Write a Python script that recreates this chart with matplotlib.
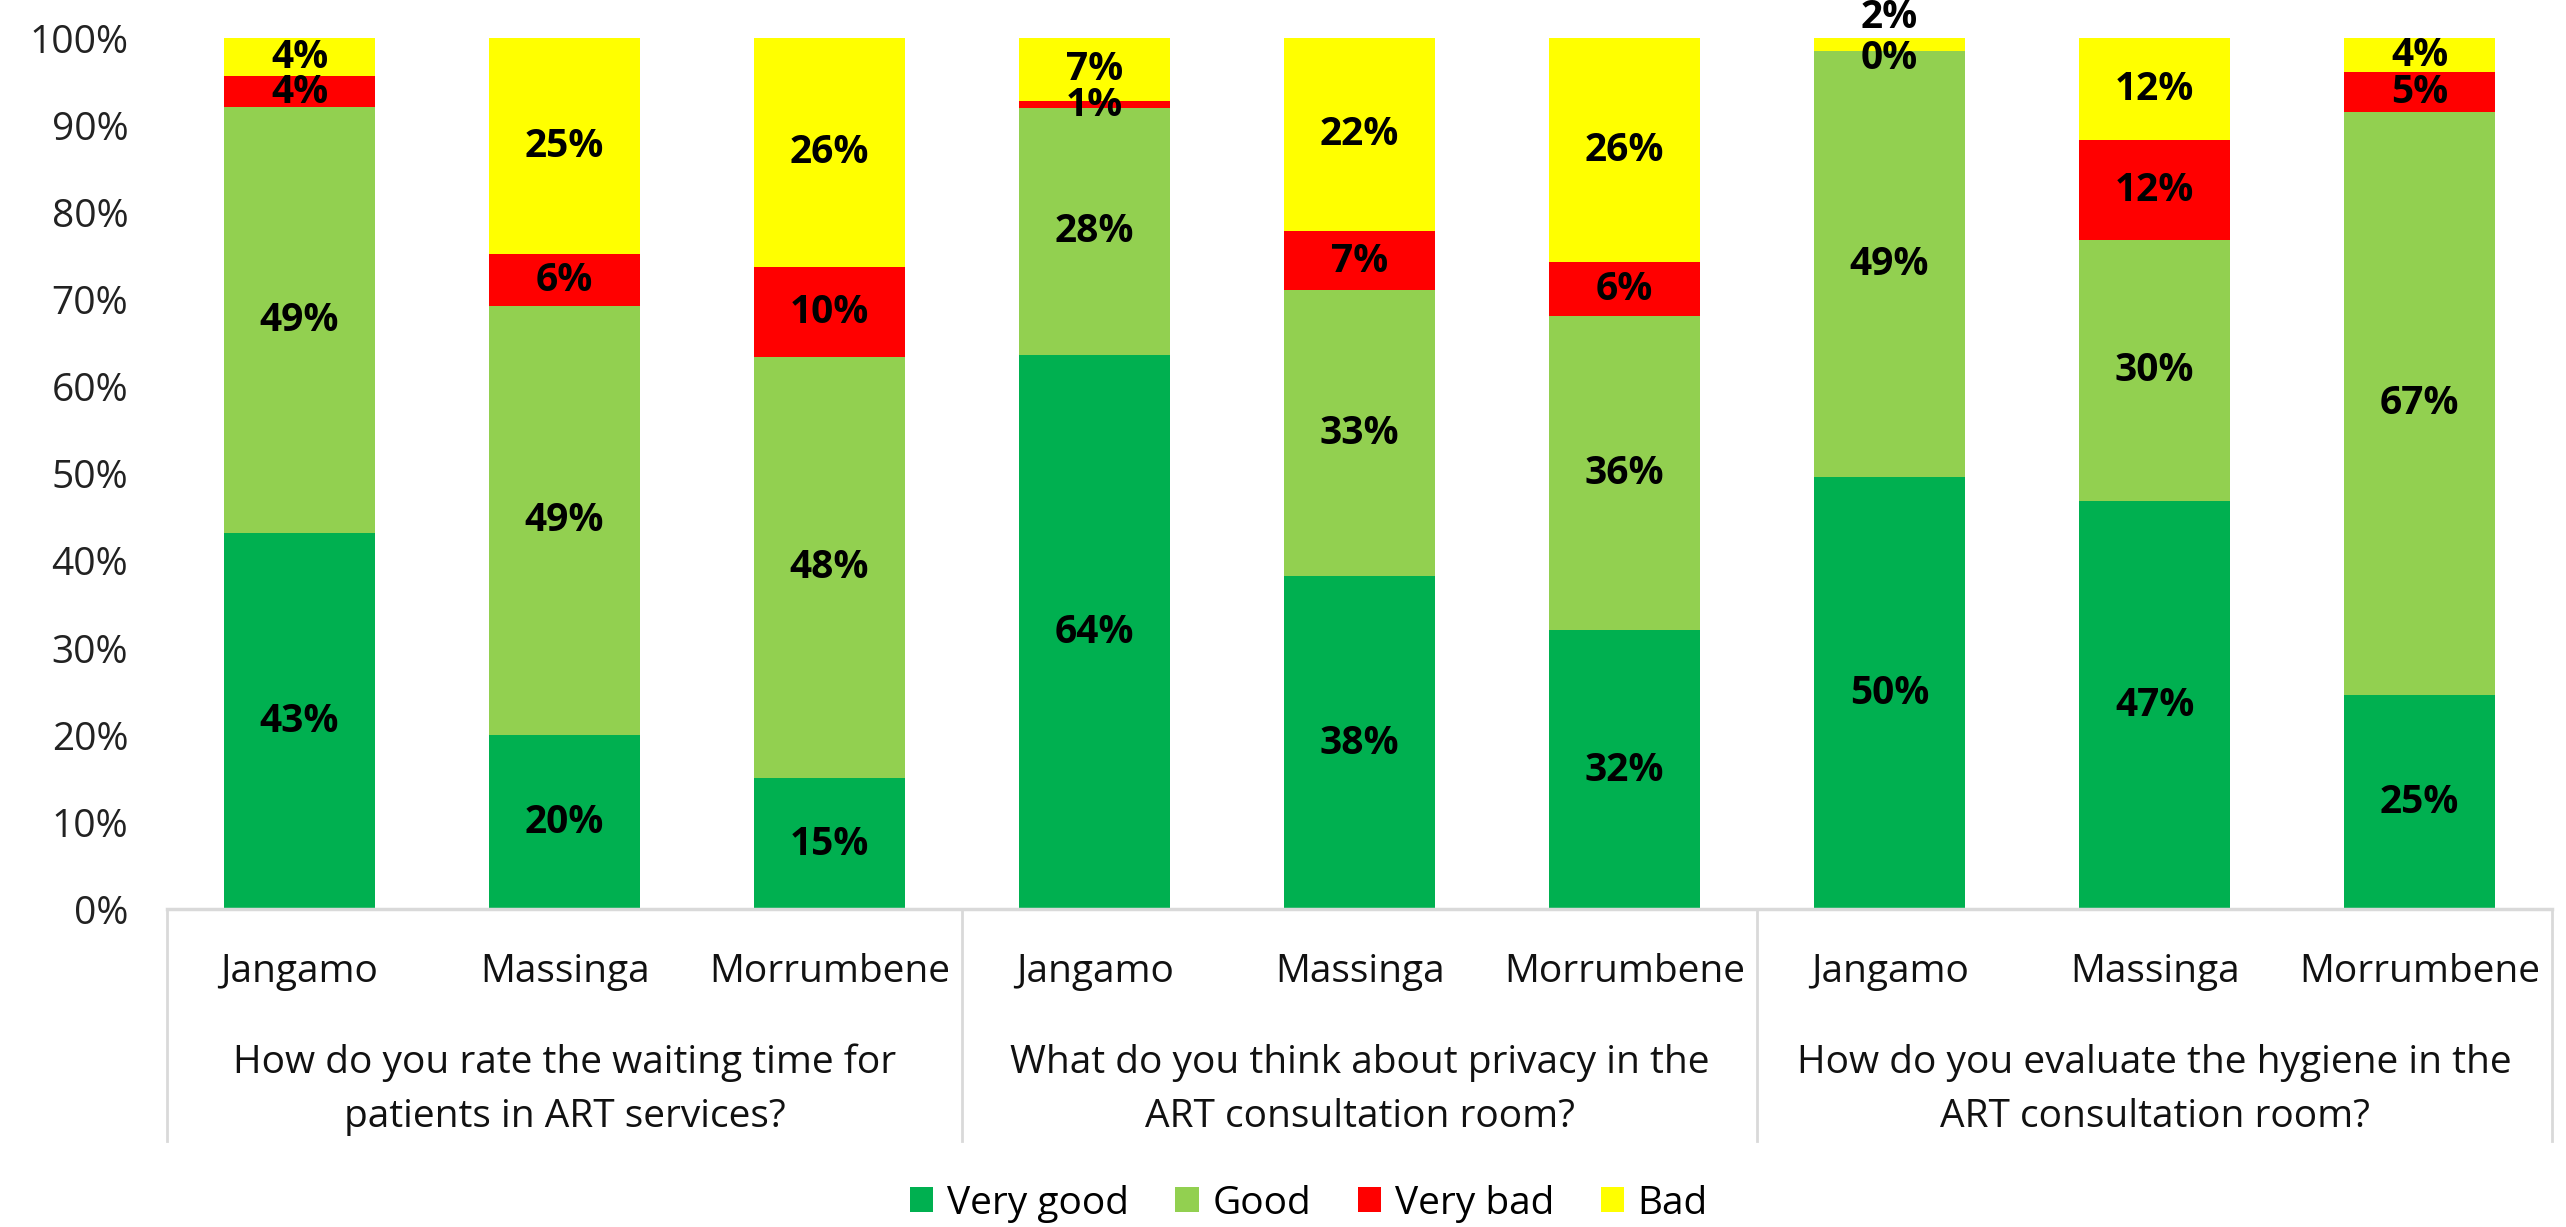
import numpy as np
import matplotlib.pyplot as plt

plt.rcParams['font.family'] = ['Open Sans', 'DejaVu Sans']

# districts repeated for each question group
districts = ['Jangamo', 'Massinga', 'Morrumbene'] * 3
questions = ['How do you rate the waiting time for\npatients in ART services?',
             'What do you think about privacy in the\nART consultation room?',
             'How do you evaluate the hygiene in the\nART consultation room?']
ratings = ['Very good', 'Good', 'Very bad', 'Bad']
colors = ['#00B050', '#92D050', '#FF0000', '#FFFF00']

# percentages (bottom to top of each stack)
very_good = [43.2, 20.0, 15.0, 63.6, 38.2, 32.0, 49.6, 46.8, 24.6]
good = [48.8, 49.2, 48.4, 28.3, 32.8, 36.0, 48.9, 30.0, 66.9]
very_bad = [3.6, 6.0, 10.3, 0.8, 6.8, 6.3, 0.0, 11.5, 4.6]
bad = [4.4, 24.8, 26.3, 7.3, 22.2, 25.7, 1.5, 11.7, 3.9]

series = [very_good, good, very_bad, bad]

fig = plt.figure(figsize=(25.66, 12.275), dpi=100)
ax = fig.add_axes([0.0651, 0.259, 0.9295, 0.710])

x = np.arange(len(districts))
width = 0.57
bottom = np.zeros(len(districts))
for name, vals, col in zip(ratings, series, colors):
    vals = np.array(vals)
    ax.bar(x, vals, width, bottom=bottom, color=col, label=name, zorder=2)
    for i, v in enumerate(vals):
        y = bottom[i] + v / 2
        if v == 0:
            # empty segment: nudge its label down a little
            y -= 0.9
        if name == ratings[-1] and v < 2:
            # tiny top segment gets its label lifted above the bar
            y = 102.4
        ax.text(x[i], y, f'{round(v)}%', ha='center', va='center',
                fontsize=28, fontweight='bold', color='black', zorder=3)
    bottom += vals

ax.set_xlim(-0.5, len(districts) - 0.5)
ax.set_ylim(0, 100)
ax.set_yticks(np.arange(0, 101, 10))
ax.set_yticklabels([f'{t}%' for t in range(0, 101, 10)], fontsize=28,
                   color='#222222')
ax.tick_params(axis='y', length=0, pad=28)
ax.tick_params(axis='x', length=0, labelbottom=False)
for s in ['top', 'right', 'left']:
    ax.spines[s].set_visible(False)
ax.spines['bottom'].set_color('#D9D9D9')
ax.spines['bottom'].set_linewidth(2.5)

trans = ax.get_xaxis_transform()
# district labels
for i, d in enumerate(districts):
    ax.text(x[i], -0.0826, d, transform=trans, ha='center', va='baseline',
            fontsize=28, color='#111111')

# group labels and separators
for g, q in enumerate(questions):
    cx = g * 3 + 1
    for k, line in enumerate(q.split('\n')):
        ax.text(cx, -0.187 - k * 0.062, line, transform=trans, ha='center',
                va='baseline', fontsize=28, color='#111111')
for sx in np.arange(-0.5, len(districts), 3):
    ax.plot([sx, sx], [0, -0.266], transform=trans, color='#D9D9D9',
            lw=2, clip_on=False)

fig.legend(loc='center', bbox_to_anchor=(0.51, 0.0195), ncol=4,
           frameon=False, fontsize=28, handlelength=0.6, handleheight=0.6,
           handletextpad=0.35, columnspacing=1.2, borderaxespad=0)

fig.savefig('out.png', dpi=100)
